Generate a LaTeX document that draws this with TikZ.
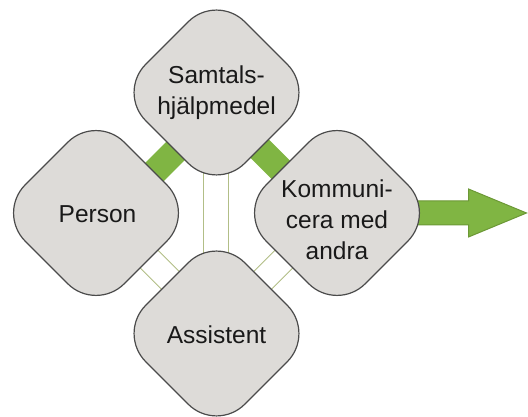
\documentclass[tikz,border=0pt]{standalone}
\usepackage{fontspec}
\setmainfont{Liberation Sans}
\usetikzlibrary{backgrounds}
\definecolor{boxfill}{RGB}{221,219,216}
\definecolor{boxline}{RGB}{75,75,75}
\definecolor{barfill}{RGB}{128,181,67}
\definecolor{arrowline}{RGB}{108,152,54}
\definecolor{thinline}{RGB}{178,190,135}
\tikzset{
 diamondbox/.style={draw=boxline, fill=boxfill, line width=1.2pt, rectangle, rounded corners=40pt, minimum size=140pt, inner sep=0pt, rotate=45},
 boxtext/.style={font=\fontsize{24.5}{31}\selectfont, align=center, inner sep=0pt, text=black!90},
 greenbar/.style={draw=barfill, line width=26pt},
 thinbar/.style={draw=thinline, line width=1pt, double=white, double distance=24pt},
 bigarrow/.style={fill=barfill, draw=arrowline, line width=1pt, line join=miter}
}
\begin{document}
\begin{tikzpicture}[x=1pt,y=1pt]
\useasboundingbox (0,0) rectangle (528,417);
\node[diamondbox] (T) at (216.5,324.5) {};
\node[diamondbox] (L) at (96,204) {};
\node[diamondbox] (R) at (337,204) {};
\node[diamondbox] (B) at (216.5,83.5) {};
\node[boxtext] (Tt) at (T.center) {Samtals-\\hjälpmedel};
\node[boxtext, anchor=base] (Lt) at ([xshift=1.5pt,yshift=-10pt]L.center) {Person};
\node[boxtext] (Rt) at ([yshift=-7pt]R.center) {Kommuni-\\cera med\\andra};
\node[boxtext, anchor=base] (Bt) at ([yshift=-10.5pt]B.center) {Assistent};
\coordinate (tip) at (526.5,204);
\begin{scope}[on background layer]
\draw[greenbar] ([shift={(8.8pt,-8.8pt)}]T.center) -- ([shift={(8.8pt,-8.8pt)}]L.center);
\draw[greenbar] ([shift={(-6.5pt,-6.5pt)}]T.center) -- ([shift={(-6.5pt,-6.5pt)}]R.center);
\draw[thinbar] ([xshift=-0.5pt]T.center) -- ([xshift=-0.5pt]B.center);
\draw[thinbar] ([shift={(3.5pt,3.5pt)}]L.center) -- ([shift={(3.5pt,3.5pt)}]B.center);
\draw[thinbar] ([shift={(-3.5pt,3.5pt)}]R.center) -- ([shift={(-3.5pt,3.5pt)}]B.center);
\draw[bigarrow] ([yshift=12pt]R.center) -- ([shift={(-58pt,12pt)}]tip) -- ([shift={(-58pt,24pt)}]tip) -- (tip) -- ([shift={(-58pt,-24pt)}]tip) -- ([shift={(-58pt,-12pt)}]tip) -- ([yshift=-12pt]R.center) -- cycle;
\end{scope}
\end{tikzpicture}
\end{document}
